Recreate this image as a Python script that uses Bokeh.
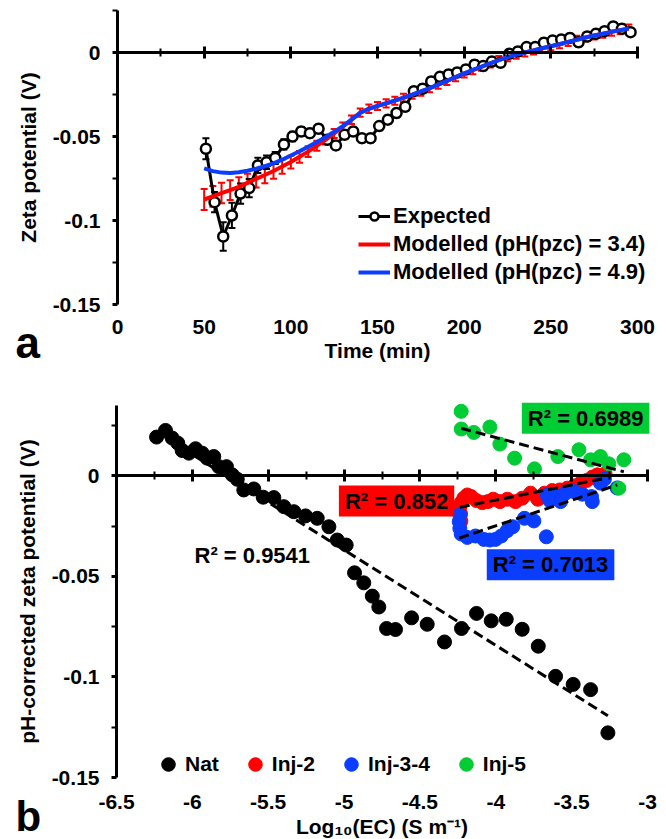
from bokeh.plotting import figure
from bokeh.models import (Range1d, LinearAxis, FixedTicker, Legend, LegendItem,
                          ColumnDataSource, Whisker, TeeHead, Label)
from bokeh.layouts import column
from bokeh.embed import file_html
from bokeh.resources import INLINE
import numpy as np

FONT = "Liberation Sans"
RED = "#FF0000"
BLUE = "#0A3DFF"
GREEN = "#00CC33"

# ---------------- panel a: zeta potential against time ----------------
exp_t = [51, 56, 61, 66, 71, 76, 81, 86, 91, 96, 101, 106, 111, 116, 121, 126,
         131, 136, 141, 146, 151, 156, 161, 166, 171, 176, 181, 186, 191, 196,
         201, 206, 211, 216, 221, 226, 231, 236, 241, 246, 251, 256, 261, 266,
         271, 276, 281, 286, 291, 296]
exp_zeta = [-0.0573, -0.0891, -0.1095, -0.0970, -0.0840, -0.0807, -0.0672, -0.0653,
            -0.0628, -0.0547, -0.0500, -0.0470, -0.0480, -0.0454, -0.0520, -0.0553,
            -0.0490, -0.0470, -0.0510, -0.0510, -0.0438, -0.0400, -0.0360, -0.0323,
            -0.0230, -0.0216, -0.0172, -0.0145, -0.0131, -0.0119, -0.0101, -0.0073,
            -0.0081, -0.0054, -0.0061, -0.0008, 0.0006, 0.0032, 0.0032, 0.0058,
            0.0071, 0.0077, 0.0087, 0.0061, 0.0095, 0.0111, 0.0127, 0.0155, 0.0141,
            0.0121]
exp_err = [0.0063, 0.0060, 0.0085, 0.0075, 0.0060, 0.0054, 0.0045, 0.0040, 0.0035, 0.0030,
           0.0028, 0.0027, 0.0026, 0.0025, 0.0025, 0.0025, 0.0025, 0.0025, 0.0025, 0.0025,
           0.0025, 0.0025, 0.0025, 0.0025, 0.0025, 0.0025, 0.0025, 0.0025, 0.0025, 0.0025,
           0.0025, 0.0025, 0.0025, 0.0025, 0.0025, 0.0025, 0.0025, 0.0025, 0.0025, 0.0025,
           0.0025, 0.0025, 0.0025, 0.0025, 0.0025, 0.0025, 0.0025, 0.0025, 0.0025, 0.0025]

model_t = [50, 55, 60, 65, 70, 75, 80, 85, 90, 95, 100, 105, 110, 115, 120, 125,
           130, 135, 140, 145, 150, 155, 160, 165, 170, 175, 180, 185, 190, 195,
           200, 205, 210, 215, 220, 225, 230, 235, 240, 245, 250, 255, 260, 265,
           270, 275, 280, 285, 290, 295]
model_pzc34 = [-0.0875, -0.0856, -0.0837, -0.0819, -0.0800, -0.0776, -0.0752, -0.0729,
               -0.0705, -0.0679, -0.0652, -0.0621, -0.0590, -0.0555, -0.0520, -0.0482,
               -0.0442, -0.0400, -0.0358, -0.0335, -0.0318, -0.0303, -0.0287, -0.0270,
               -0.0252, -0.0233, -0.0213, -0.0192, -0.0170, -0.0147, -0.0125, -0.0105,
               -0.0085, -0.0065, -0.0045, -0.0028, -0.0013, 0.0000, 0.0012, 0.0025,
               0.0037, 0.0050, 0.0063, 0.0076, 0.0089, 0.0101, 0.0112, 0.0123, 0.0133,
               0.0142]
model_pzc34_err = [0.0063, 0.0062, 0.0061, 0.0059, 0.0057, 0.0055, 0.0052, 0.0049, 0.0046, 0.0042,
                   0.0038, 0.0035, 0.0032, 0.0030, 0.0028, 0.0027, 0.0026, 0.0025, 0.0025, 0.0025,
                   0.0024, 0.0024, 0.0024, 0.0024, 0.0024, 0.0024, 0.0024, 0.0024, 0.0024, 0.0024,
                   0.0024, 0.0024, 0.0024, 0.0024, 0.0024, 0.0024, 0.0024, 0.0024, 0.0024, 0.0024,
                   0.0024, 0.0024, 0.0024, 0.0024, 0.0024, 0.0024, 0.0024, 0.0024, 0.0024, 0.0024]
model_pzc49 = [-0.0690, -0.0706, -0.0715, -0.0717, -0.0713, -0.0704, -0.0692, -0.0677,
               -0.0660, -0.0638, -0.0613, -0.0588, -0.0561, -0.0533, -0.0504, -0.0472,
               -0.0438, -0.0400, -0.0360, -0.0335, -0.0318, -0.0302, -0.0286, -0.0269,
               -0.0251, -0.0232, -0.0212, -0.0191, -0.0169, -0.0146, -0.0124, -0.0104,
               -0.0084, -0.0064, -0.0045, -0.0028, -0.0013, 0.0000, 0.0012, 0.0025,
               0.0037, 0.0050, 0.0063, 0.0076, 0.0089, 0.0101, 0.0112, 0.0123, 0.0133,
               0.0143]

time_ticks = [0, 50, 100, 150, 200, 250, 300]
time_tick_labels = ["0", "50", "100", "150", "200", "250", "300"]
time_minor = [25, 75, 125, 175, 225, 275]
zeta_ticks = [-0.15, -0.1, -0.05, 0]
zeta_tick_labels = ["-0.15", "-0.1", "-0.05", "0"]
zeta_minor = [-0.125, -0.075, -0.025, 0.025]

# ---------------- panel b: pH-corrected zeta potential against log EC ----------------
nat_x = [-6.236, -6.177, -6.133, -6.096, -6.067, -6.023, -5.979, -5.935, -5.902, -5.859,
         -5.826, -5.775, -5.737, -5.704, -5.661, -5.595, -5.533, -5.463, -5.397, -5.331,
         -5.254, -5.177, -5.100, -5.045, -4.986, -4.931, -4.870, -4.814, -4.771, -4.720,
         -4.661, -4.555, -4.452, -4.338, -4.226, -4.127, -4.030, -3.931, -3.826, -3.720,
         -3.606, -3.490, -3.375, -3.261]
nat_y = [0.0193, 0.0226, 0.0188, 0.0163, 0.0126, 0.0113, 0.0135, 0.0113, 0.0088, 0.0096,
         0.0046, 0.0046, 0.0005, -0.0017, -0.0070, -0.0065, -0.0106, -0.0108, -0.0153, -0.0178,
         -0.0199, -0.0211, -0.0253, -0.0319, -0.0344, -0.0482, -0.0532, -0.0598, -0.0652, -0.0759,
         -0.0764, -0.0706, -0.0738, -0.0826, -0.0759, -0.0684, -0.0721, -0.0713, -0.0763, -0.0847,
         -0.0997, -0.1037, -0.1063, -0.1278]

inj2_x = [-4.237, -4.232, -4.230, -4.228, -4.211, -4.188, -4.162, -4.127, -4.089, -4.052,
          -4.017, -3.973, -3.924, -3.870, -3.826, -3.771, -3.723, -3.679, -3.628, -3.578,
          -3.529, -3.485, -3.441, -3.402, -3.364, -3.331, -3.280]
inj2_y = [-0.0153, -0.0190, -0.0225, -0.0133, -0.0111, -0.0095, -0.0103, -0.0123, -0.0133, -0.0128,
          -0.0116, -0.0128, -0.0116, -0.0128, -0.0111, -0.0086, -0.0116, -0.0086, -0.0073, -0.0070,
          -0.0061, -0.0050, -0.0036, -0.0023, -0.0006, 0.0005, 0.0010]

inj34_x = [-4.237, -4.241, -4.237, -4.228, -4.188, -4.134, -4.079, -4.039, -4.002, -3.964,
           -3.925, -3.888, -3.811, -3.749, -3.667, -3.661, -3.644, -3.599, -3.573, -3.540,
           -3.485, -3.430, -3.369, -3.364, -3.310, -3.284, -3.200]
inj34_y = [-0.0194, -0.0228, -0.0261, -0.0289, -0.0306, -0.0299, -0.0316, -0.0319, -0.0316, -0.0299,
           -0.0273, -0.0253, -0.0211, -0.0224, -0.0303, -0.0095, -0.0123, -0.0103, -0.0128, -0.0086,
           -0.0078, -0.0091, -0.0103, -0.0128, -0.0036, -0.0016, -0.0060]

inj5_x = [-4.228, -4.228, -4.145, -4.039, -3.973, -3.876, -3.745, -3.591, -3.452, -3.375,
          -3.310, -3.255, -3.189, -3.156]
inj5_y = [0.0321, 0.0233, 0.0216, 0.0243, 0.0158, 0.0088, 0.0035, 0.0096, 0.0130, 0.0080,
          0.0096, 0.0060, -0.0061, 0.0080]

r2_texts = {"Nat": "R\u00b2 = 0.9541", "Inj-2": "R\u00b2 = 0.852",
            "Inj-3-4": "R\u00b2 = 0.7013", "Inj-5": "R\u00b2 = 0.6989"}

ec_ticks = [-6.5, -6, -5.5, -5, -4.5, -4, -3.5, -3]
ec_tick_labels = ["-6.5", "-6", "-5.5", "-5", "-4.5", "-4", "-3.5", "-3"]
ec_minor = [-6.25, -5.75, -5.25, -4.75, -4.25, -3.75, -3.25]
pz_ticks = [-0.15, -0.1, -0.05, 0]
pz_tick_labels = ["-0.15", "-0.1", "-0.05", "0"]
pz_minor = [-0.125, -0.075, -0.025, 0.025]

WIDTH = 666


def padded_ranges(xlim, ylim, height, box):
    """Ranges that put the axis box (left, top, right, bottom in px) where wanted,
    with the frame covering the whole canvas so panel letters are not clipped."""
    left, top, right, bottom = box
    sx = (right - left) / (xlim[1] - xlim[0])
    sy = (bottom - top) / (ylim[1] - ylim[0])
    xr = Range1d(xlim[0] - left / sx, xlim[1] + (WIDTH - right) / sx)
    yr = Range1d(ylim[0] - (height - bottom) / sy, ylim[1] + top / sy)
    return xr, yr


def style_axis(ax):
    ax.major_label_text_font = FONT
    ax.major_label_text_font_style = "bold"
    ax.major_label_text_font_size = "21px"
    ax.major_label_text_color = "black"
    ax.axis_label_text_font = FONT
    ax.axis_label_text_font_style = "bold"
    ax.axis_label_text_font_size = "21px"
    ax.axis_label_text_color = "black"
    ax.axis_line_width = 3
    ax.axis_line_color = "black"
    ax.major_tick_line_width = 3
    ax.minor_tick_line_width = 2
    ax.major_tick_line_color = "black"
    ax.minor_tick_line_color = "black"


def add_axes(p, xlim, ylim, xt, xl, xm, yt, yl, ym, xlabel, ylabel,
             xlab_standoff, xtitle_standoff):
    yax = LinearAxis(ticker=FixedTicker(ticks=yt, minor_ticks=ym),
                     major_label_overrides=dict(zip(yt, yl)),
                     axis_label=ylabel, fixed_location=xlim[0], bounds=ylim)
    style_axis(yax)
    yax.major_tick_out = 5
    yax.major_tick_in = 0
    yax.minor_tick_out = 5
    yax.minor_tick_in = 0
    yax.major_label_standoff = 12
    yax.axis_label_standoff = 10
    p.add_layout(yax, "left")

    # axis line crossing at zero, ticks on both sides, no labels
    xcross = LinearAxis(ticker=FixedTicker(ticks=xt, minor_ticks=xm),
                        fixed_location=0, bounds=xlim)
    style_axis(xcross)
    xcross.major_tick_in = 6
    xcross.major_tick_out = 6
    xcross.minor_tick_in = 4
    xcross.minor_tick_out = 4
    xcross.major_label_text_color = None
    p.add_layout(xcross, "below")

    # tick labels and title along the low edge of the value axis
    xlab = LinearAxis(ticker=FixedTicker(ticks=xt, minor_ticks=[]),
                      major_label_overrides=dict(zip(xt, xl)),
                      axis_label=xlabel, fixed_location=ylim[0], bounds=xlim)
    style_axis(xlab)
    xlab.axis_line_color = None
    xlab.major_tick_line_color = None
    xlab.minor_tick_line_color = None
    xlab.major_tick_out = 0
    xlab.major_tick_in = 0
    xlab.minor_tick_out = 0
    xlab.minor_tick_in = 0
    xlab.major_label_standoff = xlab_standoff
    xlab.axis_label_standoff = xtitle_standoff
    p.add_layout(xlab, "below")


# ---------------- figure a ----------------
HA = 370
time_lim = (0, 300)
zeta_lim = (-0.15, 0.025)
xr_a, yr_a = padded_ranges(time_lim, zeta_lim, HA, (117, 10, 637, 304))
pa = figure(width=WIDTH, height=HA, x_range=xr_a, y_range=yr_a,
            x_axis_location=None, y_axis_location=None, toolbar_location=None,
            output_backend="svg", min_border=0)
pa.outline_line_color = None
pa.grid.visible = False
add_axes(pa, time_lim, zeta_lim, time_ticks, time_tick_labels, time_minor,
         zeta_ticks, zeta_tick_labels, zeta_minor,
         "Time (min)", "Zeta potential (V)", 15, 2)

exp_src = ColumnDataSource(dict(
    t=exp_t, z=exp_zeta,
    lo=[z - e for z, e in zip(exp_zeta, exp_err)],
    hi=[z + e for z, e in zip(exp_zeta, exp_err)]))
m34_src = ColumnDataSource(dict(
    t=model_t, z=model_pzc34,
    lo=[z - e for z, e in zip(model_pzc34, model_pzc34_err)],
    hi=[z + e for z, e in zip(model_pzc34, model_pzc34_err)]))
m49_src = ColumnDataSource(dict(t=model_t, z=model_pzc49))

pa.add_layout(Whisker(source=m34_src, base="t", lower="lo", upper="hi", level="underlay",
                      line_color=RED, line_width=2,
                      upper_head=TeeHead(size=7, line_color=RED, line_width=2),
                      lower_head=TeeHead(size=7, line_color=RED, line_width=2)))
pa.add_layout(Whisker(source=exp_src, base="t", lower="lo", upper="hi", level="underlay",
                      line_color="black", line_width=2,
                      upper_head=TeeHead(size=7, line_color="black", line_width=2),
                      lower_head=TeeHead(size=7, line_color="black", line_width=2)))

exp_line = pa.line("t", "z", source=exp_src, line_color="black", line_width=3)
exp_pts = pa.scatter("t", "z", source=exp_src, marker="circle", size=10,
                     fill_color="white", line_color="black", line_width=2.5)
red_line = pa.line("t", "z", source=m34_src, line_color=RED, line_width=4)
blue_line = pa.line("t", "z", source=m49_src, line_color=BLUE, line_width=4)

leg_a = Legend(items=[LegendItem(label="Expected", renderers=[exp_line, exp_pts]),
                      LegendItem(label="Modelled (pH(pzc) = 3.4)", renderers=[red_line]),
                      LegendItem(label="Modelled (pH(pzc) = 4.9)", renderers=[blue_line])],
               location=(358, 85), orientation="vertical",
               glyph_width=32, glyph_height=20, label_height=20, spacing=2,
               label_standoff=3, padding=0, margin=0,
               label_text_font=FONT, label_text_font_style="bold",
               label_text_font_size="22px", label_text_color="black",
               background_fill_alpha=0, border_line_color=None)
pa.add_layout(leg_a)

pa.add_layout(Label(x=15, y=28, x_units="screen", y_units="screen", text="a",
                    text_font=FONT, text_font_style="bold", text_font_size="44px",
                    text_color="black", text_baseline="alphabetic"))

# ---------------- figure b ----------------
HB = 469
ec_lim = (-6.5, -3)
pz_lim = (-0.15, 0.035)
xr_b, yr_b = padded_ranges(ec_lim, pz_lim, HB, (116, 35, 647, 407))
pb = figure(width=WIDTH, height=HB, x_range=xr_b, y_range=yr_b,
            x_axis_location=None, y_axis_location=None, toolbar_location=None,
            output_backend="svg", min_border=0)
pb.outline_line_color = None
pb.grid.visible = False
add_axes(pb, ec_lim, pz_lim, ec_ticks, ec_tick_labels, ec_minor,
         pz_ticks, pz_tick_labels, pz_minor,
         "Log\u2081\u2080(EC) (S m\u207b\u00b9)", "pH-corrected zeta potential (V)", 17, 3)

series = [("Nat", nat_x, nat_y, "black"),
          ("Inj-2", inj2_x, inj2_y, RED),
          ("Inj-3-4", inj34_x, inj34_y, BLUE),
          ("Inj-5", inj5_x, inj5_y, GREEN)]

items = []
for name, xs, ys, col in series:
    r = pb.scatter(xs, ys, marker="circle", size=14, fill_color=col, line_color=col)
    items.append(LegendItem(label=name, renderers=[r]))

# linear trend lines over each series' range
for name, xs, ys, col in series:
    slope, icpt = np.polyfit(xs, ys, 1)
    x_end = [min(xs), max(xs)]
    pb.line(x_end, [slope * v + icpt for v in x_end], line_color="black",
            line_width=3, line_dash="10 5")

leg_b = Legend(items=items, location=(151, 58), orientation="horizontal",
               glyph_width=34, glyph_height=34, label_height=20, spacing=19,
               label_standoff=-6, padding=0, margin=0,
               label_text_font=FONT, label_text_font_style="bold",
               label_text_font_size="21px", label_text_color="black",
               background_fill_alpha=0, border_line_color=None)
pb.add_layout(leg_b)

label_style = dict(text_font=FONT, text_font_style="bold", text_font_size="22px",
                   text_color="black", text_align="center", text_baseline="middle")
pb.add_layout(Label(x=-5.605, y=-0.0394, text=r2_texts["Nat"], **label_style))
pb.add_layout(Label(x=-4.654, y=-0.0125, text=r2_texts["Inj-2"],
                    background_fill_color=RED, padding=(6, 3), **label_style))
pb.add_layout(Label(x=-3.639, y=-0.0442, text=r2_texts["Inj-3-4"],
                    background_fill_color=BLUE, padding=(6, 3), **label_style))
pb.add_layout(Label(x=-3.408, y=0.0287, text=r2_texts["Inj-5"],
                    background_fill_color=GREEN, padding=(6, 3), **label_style))

pb.add_layout(Label(x=15, y=23, x_units="screen", y_units="screen", text="b",
                    text_font=FONT, text_font_style="bold", text_font_size="42px",
                    text_color="black", text_baseline="alphabetic"))

layout = column(pa, pb, spacing=0)
open("out.html", "w").write(file_html(layout, INLINE))
